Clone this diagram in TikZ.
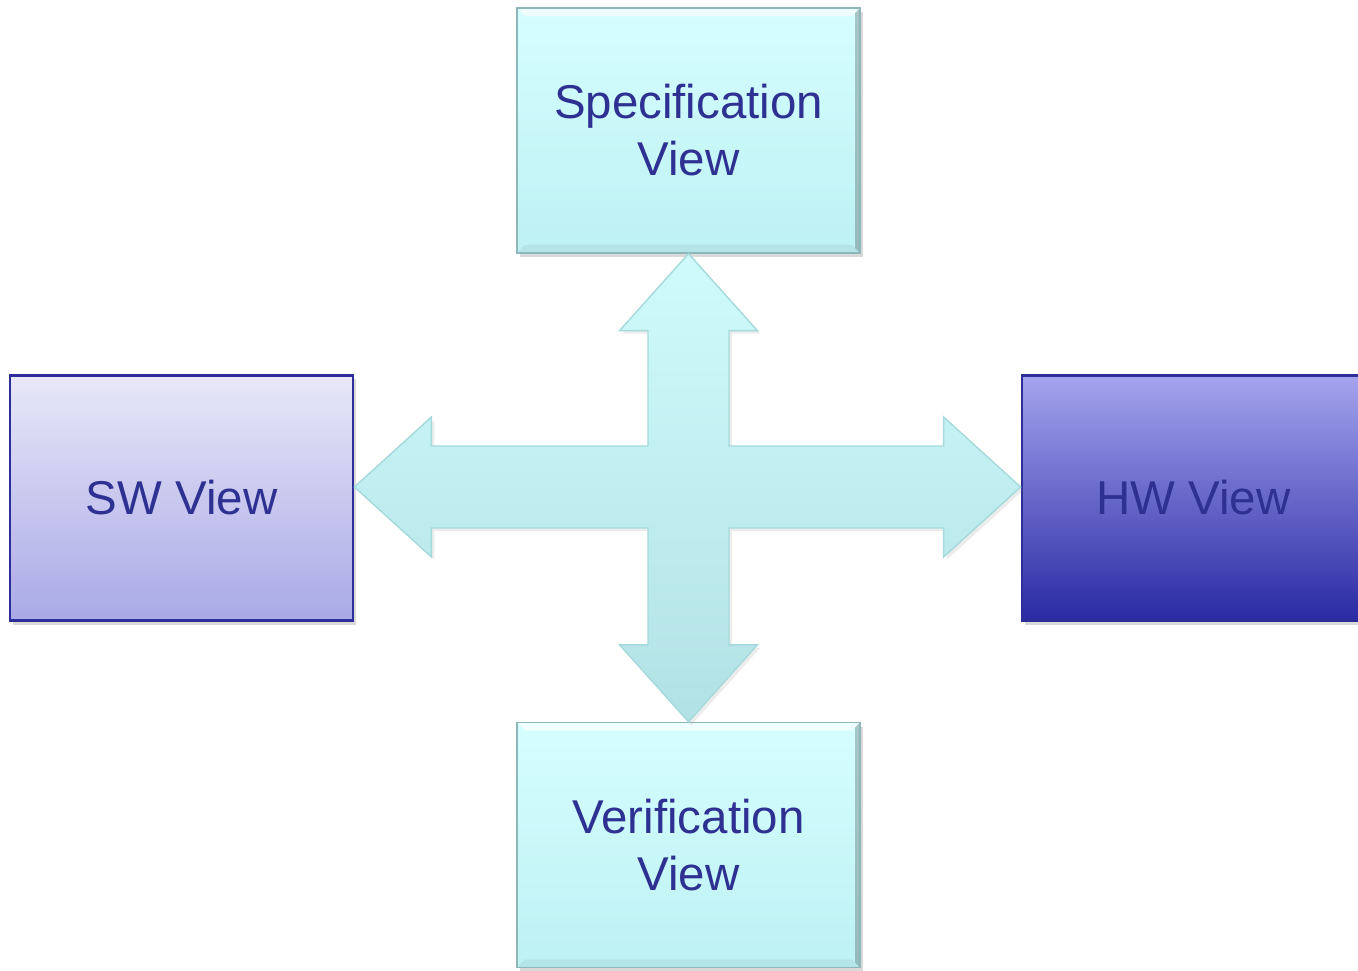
\documentclass[tikz,border=0pt]{standalone}
\usepackage{fontspec}
\setmainfont{Liberation Sans}
\usetikzlibrary{shadows, calc}

\definecolor{textblue}{HTML}{2E3192}
\definecolor{cyantop}{HTML}{D6FEFE}
\definecolor{cyanbot}{HTML}{BDF1F4}
\definecolor{cyanedge}{HTML}{8DB7B9}
\definecolor{arrowtop}{HTML}{CFFBFB}
\definecolor{arrowbot}{HTML}{B2E1E5}
\definecolor{arrowedge}{HTML}{A4DADB}
\definecolor{swtop}{HTML}{E8E8F8}
\definecolor{swbot}{HTML}{A9A9E7}
\definecolor{hwtop}{HTML}{A4A4EE}
\definecolor{hwmid}{HTML}{8282D6}
\definecolor{hwbot}{HTML}{2A2AA4}
\definecolor{boxedge}{HTML}{2E2E9A}

\begin{document}
\begin{tikzpicture}[
  viewbox/.style={rectangle, minimum width=3.43cm, minimum height=2.45cm, align=center,
    text=textblue, font=\fontsize{13.5}{16.2}\selectfont,
    drop shadow={opacity=0.3, shadow xshift=0.03cm, shadow yshift=-0.04cm}},
  cyanbox/.style={viewbox, top color=cyantop, bottom color=cyanbot, draw=cyanedge, thin,
    path picture={
      \fill[white, opacity=0.6] (path picture bounding box.north west) -- (path picture bounding box.north east)
        -- ++(-0.08,-0.08) -- ($(path picture bounding box.north west)+(0.08,-0.08)$) -- cycle;
      \fill[black, opacity=0.22] (path picture bounding box.north east) -- (path picture bounding box.south east)
        -- ++(-0.05,0.05) -- ($(path picture bounding box.north east)+(-0.05,-0.05)$) -- cycle;
      \fill[black, opacity=0.05] (path picture bounding box.south west) -- (path picture bounding box.south east)
        -- ++(-0.08,0.08) -- ($(path picture bounding box.south west)+(0.08,0.08)$) -- cycle;
    }},
  swbox/.style={viewbox, top color=swtop, bottom color=swbot, draw=boxedge, thick},
  hwbox/.style={viewbox, top color=hwtop, middle color=hwmid, bottom color=hwbot, draw=boxedge, thick},
  crossarrow/.style={top color=arrowtop, bottom color=arrowbot, draw=arrowedge, thin,
    drop shadow={opacity=0.15, shadow xshift=0.03cm, shadow yshift=-0.03cm}}
]
\useasboundingbox (0,0) rectangle (13.58,9.70);

\node[cyanbox] (spec) at (6.885,8.395) {Specification\\View};
\node[swbox] (sw) at (1.815,4.72) {SW View};
\node[hwbox] (hw) at (11.935,4.72) {HW View};
\node[cyanbox] (verif) at (6.885,1.25) {Verification\\View};

\coordinate (mid) at (6.885,4.83);
\coordinate (T) at (spec.south);
\coordinate (B) at (verif.north);
\coordinate (L) at (sw.east |- mid);
\coordinate (R) at (hw.west |- mid);

\draw[crossarrow] (T) -- ($(T)+(0.69,-0.77)$) -- ($(T)+(0.405,-0.77)$) -- ($(mid)+(0.405,0.41)$)
  -- ($(R)+(-0.77,0.41)$) -- ($(R)+(-0.77,0.70)$) -- (R) -- ($(R)+(-0.77,-0.70)$) -- ($(R)+(-0.77,-0.41)$)
  -- ($(mid)+(0.405,-0.41)$) -- ($(B)+(0.405,0.77)$) -- ($(B)+(0.69,0.77)$) -- (B)
  -- ($(B)+(-0.69,0.77)$) -- ($(B)+(-0.405,0.77)$) -- ($(mid)+(-0.405,-0.41)$)
  -- ($(L)+(0.77,-0.41)$) -- ($(L)+(0.77,-0.70)$) -- (L) -- ($(L)+(0.77,0.70)$) -- ($(L)+(0.77,0.41)$)
  -- ($(mid)+(-0.405,0.41)$) -- ($(T)+(-0.405,-0.77)$) -- ($(T)+(-0.69,-0.77)$) -- cycle;
\end{tikzpicture}
\end{document}
